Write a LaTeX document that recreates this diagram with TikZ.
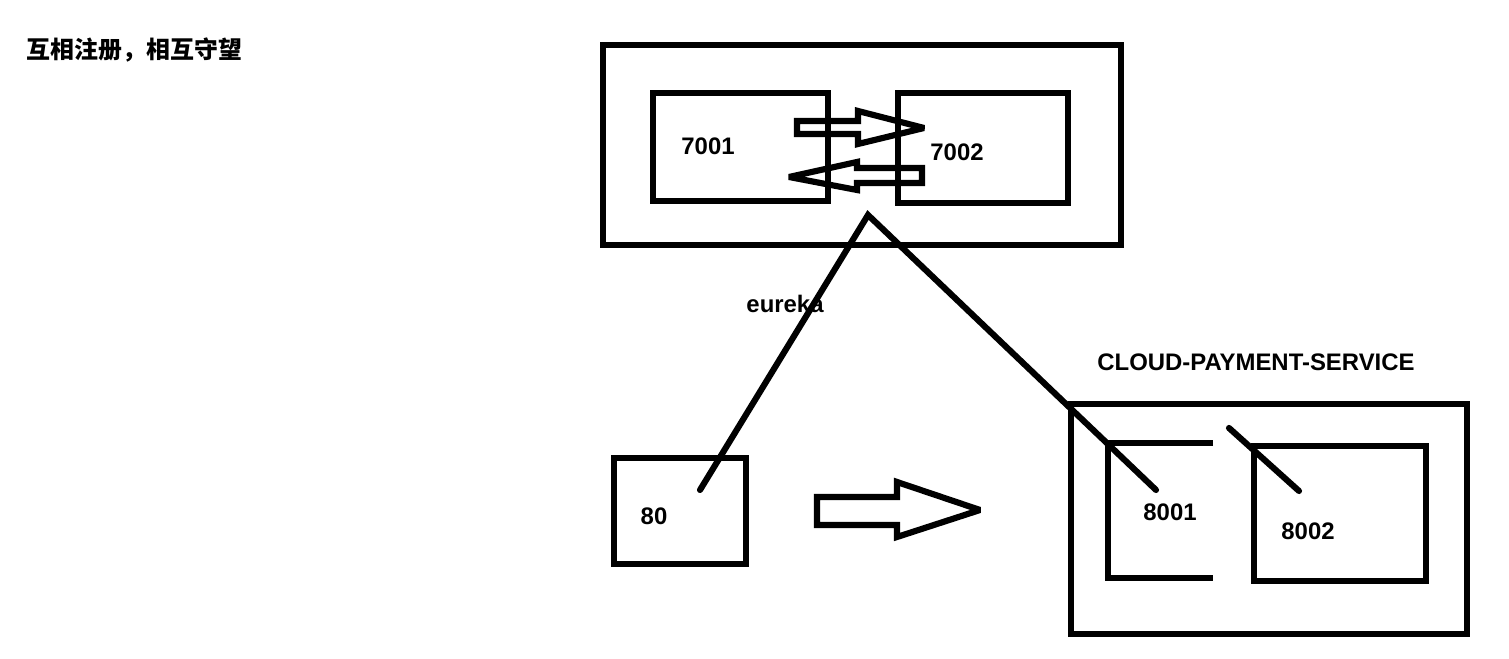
\documentclass[tikz,border=0pt]{standalone}
\usepackage{fontspec}
\setmainfont{Liberation Sans}
\newfontfamily\cjk{Noto Sans CJK SC}
\begin{document}
\begin{tikzpicture}[x=0.01cm,y=-0.01cm,
  lw/.style={line width=1.75pt},
  box/.style={draw,lw,rectangle,inner sep=0pt,outer sep=0pt},
  lbl/.style={font=\fontsize{6.8pt}{8pt}\selectfont\bfseries,inner sep=0pt},
  link/.style={lw,line cap=round},
  hollow/.style={lw,line join=miter,miter limit=3}]
\useasboundingbox (0,0) rectangle (1509,659);
% title
\node[lbl,anchor=west] (title) at (26,50) {\cjk 互相注册，相互守望};
% eureka cluster
\node[box,minimum width=5.18cm,minimum height=2.00cm] (outer1) at (862,145) {};
\node[box,minimum width=1.75cm,minimum height=1.08cm] (b7001) at (740.5,147) {};
\node[box,minimum width=1.70cm,minimum height=1.10cm] (b7002) at (983,148) {};
\node[lbl] (t7001) at (708,146) {7001};
\node[lbl] (t7002) at (957,152) {7002};
% hollow arrows between 7001 and 7002
\draw[hollow] (797,121) -- (858,121) -- (858,111) -- (924,128) -- (858,144) -- (858,134) -- (797,134) -- cycle;
\draw[hollow] (922,168) -- (857,168) -- (857,162) -- (789,177) -- (857,190) -- (857,183) -- (922,183) -- cycle;
\node[lbl] (teureka) at (785,304) {eureka};
% consumer 80
\node[box,minimum width=1.32cm,minimum height=1.06cm] (b80) at (680,511) {};
\node[lbl] (t80) at (654,516) {80};
\draw[hollow] (817,497) -- (897,497) -- (897,482) -- (980,510) -- (897,537) -- (897,525) -- (817,525) -- cycle;
% payment service
\node[lbl] (tcloud) at (1256,362) {CLOUD-PAYMENT-SERVICE};
\node[box,minimum width=3.96cm,minimum height=2.30cm] (outer2) at (1269,519) {};
\node[inner sep=0pt,outer sep=0pt,minimum width=1.05cm,minimum height=1.35cm] (b8001) at (1160.5,510.5) {};
\draw[lw] (b8001.north east) -- (b8001.north west) -- (b8001.south west) -- (b8001.south east);
\node[box,minimum width=1.72cm,minimum height=1.35cm] (b8002) at (1340,513.5) {};
\node[lbl] (t8001) at (1170,512) {8001};
\node[lbl] (t8002) at (1308,531) {8002};
% registration links
\coordinate (c80) at (700,490);
\coordinate (apex) at (868,215);
\coordinate (c8001) at (1156,490);
\coordinate (s8002) at (1229,428);
\coordinate (c8002) at (1299,491);
\draw[link,line join=miter] (c80) -- (apex) -- (c8001);
\draw[link] (s8002) -- (c8002);
\end{tikzpicture}
\end{document}
